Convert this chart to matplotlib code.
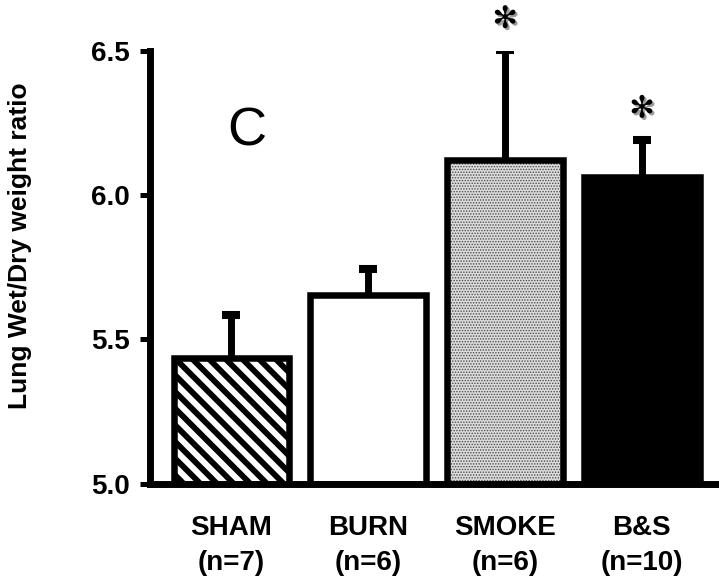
import matplotlib
matplotlib.use("Agg")
import matplotlib.pyplot as plt
import matplotlib.patheffects as pe
import numpy as np

groups = ["SHAM", "BURN", "SMOKE", "B&S"]
n_labels = ["(n=7)", "(n=6)", "(n=6)", "(n=10)"]
means = [5.434, 5.655, 6.120, 6.061]
errors = [0.150, 0.088, 0.383, 0.131]
significant = [False, False, True, True]
y_ticks = [5.0, 5.5, 6.0, 6.5]
panel_letter = "C"
y_label = "Lung Wet/Dry weight ratio"

plt.rcParams['font.family'] = ['Liberation Sans', 'DejaVu Sans']

fig = plt.figure(figsize=(7.19, 5.87), dpi=100)
ax = fig.add_axes([0.2093, 0.1763, 0.7893, 0.7373])

x = np.arange(len(groups))
width = 0.845
base = 5.0
heights = [m - base for m in means]

# SHAM: diagonal hatch
with plt.rc_context({'hatch.linewidth': 4.2}):
    ax.bar(x[0], heights[0], width, bottom=base, facecolor='white',
           edgecolor='black', hatch='\\\\', linewidth=0, zorder=2)
# BURN: white
ax.bar(x[1], heights[1], width, bottom=base, facecolor='white',
       edgecolor='black', linewidth=0, zorder=2)
# SMOKE: stipple
with plt.rc_context({'hatch.linewidth': 0.7}):
    ax.bar(x[2], heights[2], width, bottom=base, facecolor='#dcdcdc',
           edgecolor='#4a4a4a', hatch='......', linewidth=0, zorder=2)
# B&S: black
ax.bar(x[3], heights[3], width, bottom=base, facecolor='black',
       edgecolor='black', linewidth=0, zorder=2)
# outlines
ax.bar(x, heights, width, bottom=base, fill=False, edgecolor='black',
       linewidth=4.7, zorder=3)

eb = ax.errorbar(x, means, yerr=[np.zeros(len(errors)), errors], fmt='none',
                 ecolor='black', elinewidth=5, capsize=6.5, capthick=5.8, zorder=1)
caplines = eb[1]
if len(caplines) == 2:
    caplines[0].set_visible(False)

for xi, m, e, s in zip(x, means, errors, significant):
    if s:
        ax.annotate("✻", (xi, m + e), xytext=(0, 22), textcoords='offset points',
                    ha='center', va='center', fontsize=22, color='black',
                    family='DejaVu Sans', zorder=5, annotation_clip=False,
                    path_effects=[pe.SimplePatchShadow(offset=(1.5, -1.5),
                                                       shadow_rgbFace='#9a9a9a',
                                                       alpha=1.0),
                                  pe.Normal()])

ax.set_xlim(-0.592, 3.556)
ax.set_ylim(5.0, 6.5)
ax.set_yticks(y_ticks)
ax.set_yticklabels([f"{v:.1f}" for v in y_ticks], fontsize=20, fontweight='bold')
ax.set_xticks(x)
ax.set_xticklabels([f"{g}\n{n}" for g, n in zip(groups, n_labels)], fontsize=20,
                   fontweight='bold', linespacing=1.45)
ax.tick_params(axis='x', length=0, pad=23)
ax.tick_params(axis='y', length=7.2, width=3.6, pad=8, direction='out')

for sp in ['top', 'right']:
    ax.spines[sp].set_visible(False)
for sp in ['left', 'bottom']:
    ax.spines[sp].set_linewidth(5)
ax.spines['left'].set_capstyle('projecting')

ax.text(x[0] + 0.11, 6.22, panel_letter, fontsize=39, ha='center', va='center')

fig.text(20 / 719, 1 - 246 / 587, y_label, rotation=90, ha='center', va='center',
         fontsize=19, fontweight='bold')

fig.savefig("out.png", dpi=100)
